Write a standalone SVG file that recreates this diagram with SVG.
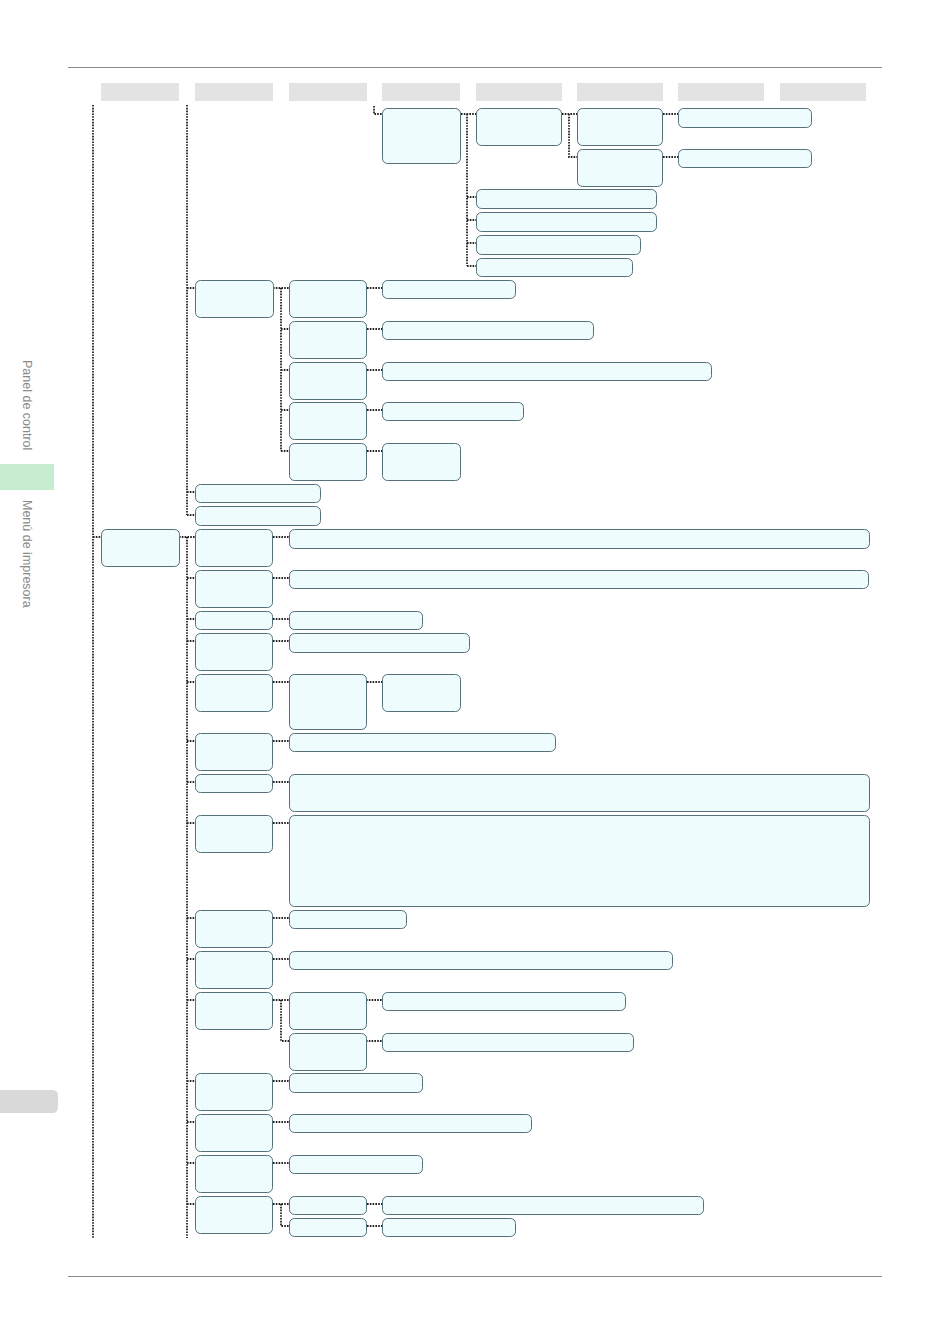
<svg xmlns="http://www.w3.org/2000/svg" width="950" height="1344" viewBox="0 0 950 1344">
<style>
.n{fill:#effcfe;stroke:#56707a;stroke-width:1}
.c{fill:none;stroke:#222;stroke-width:1.8;stroke-dasharray:1.6 1.2}
.h{fill:#e3e3e3}
.rule{stroke:#8a8a8a;stroke-width:1.2}
.side{font-family:"Liberation Sans",Arial,sans-serif;font-size:12.5px;fill:#8a8a8a}
</style>
<rect width="950" height="1344" fill="#ffffff"/>
<line class="rule" x1="68" y1="67.5" x2="882" y2="67.5"/>
<line class="rule" x1="68" y1="1276.5" x2="882" y2="1276.5"/>
<g id="side">
<rect x="0" y="464" width="54" height="26" fill="#c6edd0"/>
<path d="M0 1090 H52 Q58 1090 58 1096 V1107 Q58 1113 52 1113 H0 Z" fill="#d9d9d9"/>
<text class="side" transform="translate(23 360) rotate(90)">Panel de control</text>
<text class="side" transform="translate(23 500) rotate(90)">Menú de impresora</text>
</g>
<g id="headers">
<rect class="h" x="101" y="83" width="78" height="18"/>
<rect class="h" x="195" y="83" width="78" height="18"/>
<rect class="h" x="289" y="83" width="78" height="18"/>
<rect class="h" x="382" y="83" width="78" height="18"/>
<rect class="h" x="476" y="83" width="86" height="18"/>
<rect class="h" x="577" y="83" width="86" height="18"/>
<rect class="h" x="678" y="83" width="86" height="18"/>
<rect class="h" x="780" y="83" width="86" height="18"/>
</g>
<g id="connectors">
<path class="c" d="M93 105 V1238 M93 537 H101"/>
<path class="c" d="M374 106 V114 H382 M461 114 H476 M467 114 V266 M467 197 H476 M467 220 H476 M467 243 H476 M467 266 H476 M562 114 H577 M569 114 V157 H577 M663 114 H678 M663 157 H678"/>
<path class="c" d="M187 105 V515 M187 288 H195 M187 492 H195 M187 515 H195 M273 288 H289 M281 288 V451 M281 329 H289 M281 370 H289 M281 410 H289 M281 451 H289 M367 288 H382 M367 329 H382 M367 370 H382 M367 410 H382 M367 451 H382"/>
<path class="c" d="M179 537 H195 M187 537 V1238 M187 578 H195 M187 619 H195 M187 641 H195 M187 682 H195 M187 741 H195 M187 782 H195 M187 823 H195 M187 918 H195 M187 959 H195 M187 1000 H195 M187 1081 H195 M187 1122 H195 M187 1163 H195 M187 1204 H195"/>
<path class="c" d="M273 537 H289 M273 578 H289 M273 619 H289 M273 641 H289 M273 682 H289 M367 682 H382 M273 741 H289 M273 782 H289 M273 823 H289 M273 918 H289 M273 959 H289 M273 1000 H289 M281 1000 V1041 H289 M366 1000 H382 M366 1041 H382 M273 1081 H289 M273 1122 H289 M273 1163 H289 M273 1204 H289 M281 1204 V1226 H289 M367 1204 H382 M367 1226 H382"/>
</g>
<g id="n-a"><rect class="n" x="382.5" y="108.5" width="78" height="55" rx="5"/></g>
<g id="n-b"><rect class="n" x="476.5" y="108.5" width="85" height="37" rx="5"/></g>
<g id="n-c1"><rect class="n" x="577.5" y="108.5" width="85" height="37" rx="5"/></g>
<g id="n-c2"><rect class="n" x="577.5" y="149.5" width="85" height="37" rx="5"/></g>
<g id="n-d1"><rect class="n" x="678.5" y="108.5" width="133" height="19" rx="5"/></g>
<g id="n-d2"><rect class="n" x="678.5" y="149.5" width="133" height="18" rx="5"/></g>
<g id="n-w1"><rect class="n" x="476.5" y="189.5" width="180" height="19" rx="5"/></g>
<g id="n-w2"><rect class="n" x="476.5" y="212.5" width="180" height="19" rx="5"/></g>
<g id="n-w3"><rect class="n" x="476.5" y="235.5" width="164" height="19" rx="5"/></g>
<g id="n-w4"><rect class="n" x="476.5" y="258.5" width="156" height="18" rx="5"/></g>
<g id="n-e"><rect class="n" x="195.5" y="280.5" width="78" height="37" rx="5"/></g>
<g id="n-f1"><rect class="n" x="289.5" y="280.5" width="77" height="37" rx="5"/></g>
<g id="n-f2"><rect class="n" x="289.5" y="321.5" width="77" height="37" rx="5"/></g>
<g id="n-f3"><rect class="n" x="289.5" y="362.5" width="77" height="37" rx="5"/></g>
<g id="n-f4"><rect class="n" x="289.5" y="402.5" width="77" height="37" rx="5"/></g>
<g id="n-f5"><rect class="n" x="289.5" y="443.5" width="77" height="37" rx="5"/></g>
<g id="n-g1"><rect class="n" x="382.5" y="280.5" width="133" height="18" rx="5"/></g>
<g id="n-g2"><rect class="n" x="382.5" y="321.5" width="211" height="18" rx="5"/></g>
<g id="n-g3"><rect class="n" x="382.5" y="362.5" width="329" height="18" rx="5"/></g>
<g id="n-g4"><rect class="n" x="382.5" y="402.5" width="141" height="18" rx="5"/></g>
<g id="n-g5"><rect class="n" x="382.5" y="443.5" width="78" height="37" rx="5"/></g>
<g id="n-e2"><rect class="n" x="195.5" y="484.5" width="125" height="18" rx="5"/></g>
<g id="n-e3"><rect class="n" x="195.5" y="506.5" width="125" height="19" rx="5"/></g>
<g id="n-h"><rect class="n" x="101.5" y="529.5" width="78" height="37" rx="5"/></g>
<g id="n-l1"><rect class="n" x="195.5" y="529.5" width="77" height="37" rx="5"/></g>
<g id="n-l1c"><rect class="n" x="289.5" y="529.5" width="580" height="19" rx="5"/></g>
<g id="n-l2"><rect class="n" x="195.5" y="570.5" width="77" height="37" rx="5"/></g>
<g id="n-l2c"><rect class="n" x="289.5" y="570.5" width="579" height="18" rx="5"/></g>
<g id="n-l3"><rect class="n" x="195.5" y="611.5" width="77" height="18" rx="5"/></g>
<g id="n-l3c"><rect class="n" x="289.5" y="611.5" width="133" height="18" rx="5"/></g>
<g id="n-l4"><rect class="n" x="195.5" y="633.5" width="77" height="37" rx="5"/></g>
<g id="n-l4c"><rect class="n" x="289.5" y="633.5" width="180" height="19" rx="5"/></g>
<g id="n-l5"><rect class="n" x="195.5" y="674.5" width="77" height="37" rx="5"/></g>
<g id="n-l5c"><rect class="n" x="289.5" y="674.5" width="77" height="55" rx="5"/></g>
<g id="n-l5d"><rect class="n" x="382.5" y="674.5" width="78" height="37" rx="5"/></g>
<g id="n-l6"><rect class="n" x="195.5" y="733.5" width="77" height="37" rx="5"/></g>
<g id="n-l6c"><rect class="n" x="289.5" y="733.5" width="266" height="18" rx="5"/></g>
<g id="n-l7"><rect class="n" x="195.5" y="774.5" width="77" height="18" rx="5"/></g>
<g id="n-l7c"><rect class="n" x="289.5" y="774.5" width="580" height="37" rx="5"/></g>
<g id="n-l8"><rect class="n" x="195.5" y="815.5" width="77" height="37" rx="5"/></g>
<g id="n-l8c"><rect class="n" x="289.5" y="815.5" width="580" height="91" rx="5"/></g>
<g id="n-l9"><rect class="n" x="195.5" y="910.5" width="77" height="37" rx="5"/></g>
<g id="n-l9c"><rect class="n" x="289.5" y="910.5" width="117" height="18" rx="5"/></g>
<g id="n-l10"><rect class="n" x="195.5" y="951.5" width="77" height="37" rx="5"/></g>
<g id="n-l10c"><rect class="n" x="289.5" y="951.5" width="383" height="18" rx="5"/></g>
<g id="n-l11"><rect class="n" x="195.5" y="992.5" width="77" height="37" rx="5"/></g>
<g id="n-l11a"><rect class="n" x="289.5" y="992.5" width="77" height="37" rx="5"/></g>
<g id="n-l11b"><rect class="n" x="289.5" y="1033.5" width="77" height="37" rx="5"/></g>
<g id="n-l11ac"><rect class="n" x="382.5" y="992.5" width="243" height="18" rx="5"/></g>
<g id="n-l11bc"><rect class="n" x="382.5" y="1033.5" width="251" height="18" rx="5"/></g>
<g id="n-l12"><rect class="n" x="195.5" y="1073.5" width="77" height="37" rx="5"/></g>
<g id="n-l12c"><rect class="n" x="289.5" y="1073.5" width="133" height="19" rx="5"/></g>
<g id="n-l13"><rect class="n" x="195.5" y="1114.5" width="77" height="37" rx="5"/></g>
<g id="n-l13c"><rect class="n" x="289.5" y="1114.5" width="242" height="18" rx="5"/></g>
<g id="n-l14"><rect class="n" x="195.5" y="1155.5" width="77" height="37" rx="5"/></g>
<g id="n-l14c"><rect class="n" x="289.5" y="1155.5" width="133" height="18" rx="5"/></g>
<g id="n-l15"><rect class="n" x="195.5" y="1196.5" width="77" height="37" rx="5"/></g>
<g id="n-l15a"><rect class="n" x="289.5" y="1196.5" width="77" height="18" rx="5"/></g>
<g id="n-l15b"><rect class="n" x="289.5" y="1218.5" width="77" height="18" rx="5"/></g>
<g id="n-l15ac"><rect class="n" x="382.5" y="1196.5" width="321" height="18" rx="5"/></g>
<g id="n-l15bc"><rect class="n" x="382.5" y="1218.5" width="133" height="18" rx="5"/></g>
</svg>
